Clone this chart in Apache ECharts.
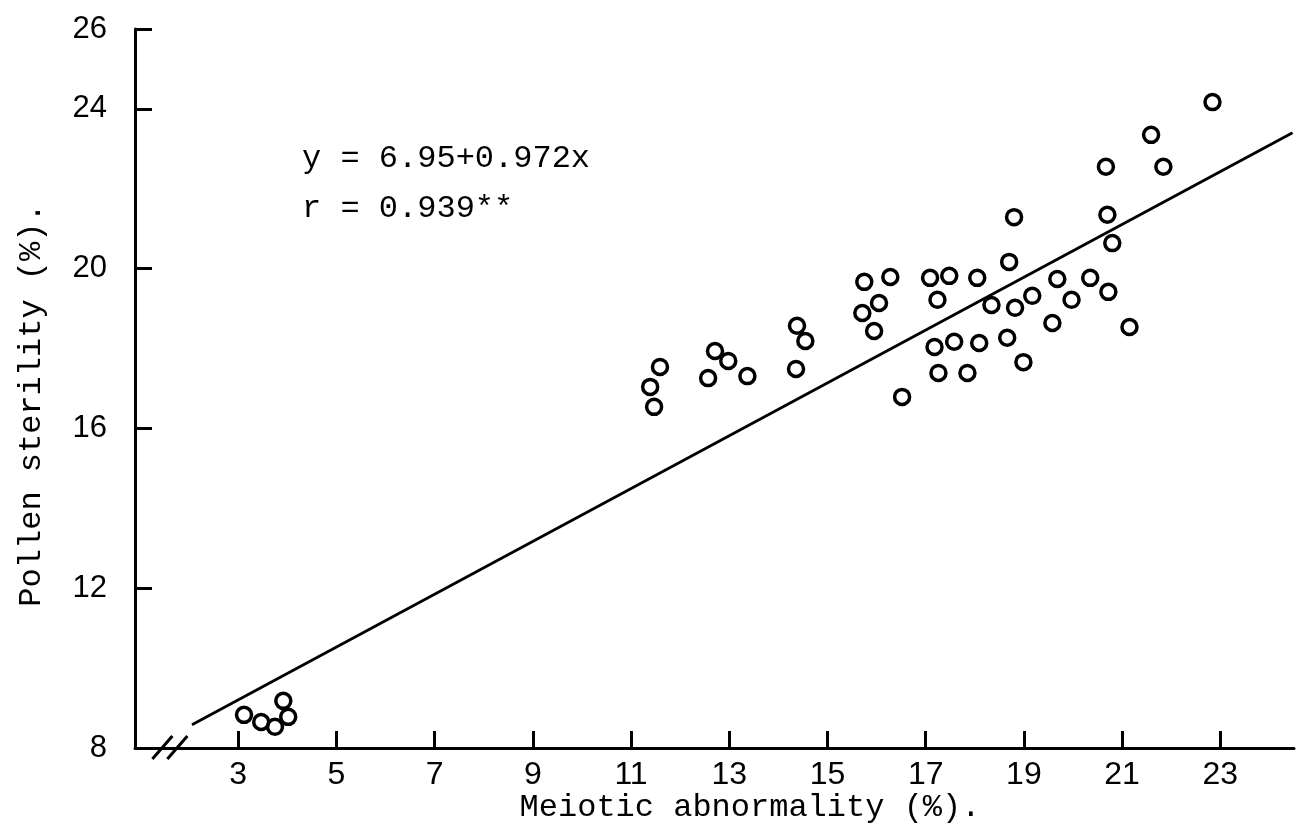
<!DOCTYPE html>
<html>
<head>
<meta charset="utf-8">
<script src="https://cdn.jsdelivr.net/npm/echarts@6/dist/echarts.min.js"></script>
<style>
  html, body { margin: 0; padding: 0; background: #ffffff; }
  #chart { width: 1299px; height: 831px; }
</style>
</head>
<body>
<div id="chart"></div>
<script>
// Meiotic abnormality (%) against pollen sterility (%), one value per plant
const meioticAbnormality = [
  3.12, 3.47, 3.75, 3.92, 4.02,
  11.59, 11.39, 11.47, 12.71, 12.98, 12.57, 13.37,
  14.38, 14.55, 14.36,
  15.75, 16.28, 16.05, 15.71, 15.95, 16.52,
  17.09, 17.48, 17.24, 17.18, 17.26, 17.58, 17.85, 18.05, 18.09, 18.34,
  18.80, 18.70, 18.82, 19.17, 18.66, 18.99,
  19.68, 19.97, 19.58, 20.35, 20.72, 20.70, 20.80, 21.15,
  22.84, 21.59, 20.67, 21.84
];
const pollenSterility = [
  8.83, 8.65, 8.53, 9.18, 8.78,
  17.54, 17.04, 16.54, 17.94, 17.69, 17.26, 17.31,
  18.57, 18.19, 17.49,
  19.67, 19.79, 19.14, 18.89, 18.44, 16.79,
  19.77, 19.82, 19.22, 18.04, 17.39, 18.17, 17.39, 19.77, 18.14, 19.09,
  21.29, 20.17, 19.02, 19.32, 18.27, 17.66,
  19.74, 19.22, 18.64, 19.77, 19.42, 21.35, 20.64, 18.54,
  24.17, 23.35, 22.55, 22.55
];

// fitted line, drawn between its two end points
const fitLineX = [2.06, 24.47];
const fitLineY = [8.58, 23.40];

const xTickValues = [3, 5, 7, 9, 11, 13, 15, 17, 19, 21, 23];
const yTickValues = [8, 12, 16, 20, 24, 26];

const equationText = 'y = 6.95+0.972x';
const correlationText = 'r = 0.939**';
const xTitle = 'Meiotic abnormality (%).';
const yTitle = 'Pollen sterility (%).';

const ink = '#000000';
const monoFont = '"Liberation Mono", "DejaVu Sans Mono", monospace';
const tickFont = '"Liberation Sans", "DejaVu Sans", sans-serif';

const points = meioticAbnormality.map((x, i) => [x, pollenSterility[i]]);
const fitLine = fitLineX.map((x, i) => [x, fitLineY[i]]);

const chart = echarts.init(document.getElementById('chart'), null, { renderer: 'canvas' });

chart.setOption({
  backgroundColor: '#ffffff',
  animation: false,
  grid: { left: 135, right: 5, top: 29, bottom: 83, containLabel: false },
  xAxis: {
    type: 'value',
    min: 0.9,
    max: 24.5,
    splitLine: { show: false },
    axisLine: { show: true, lineStyle: { color: ink, width: 3 } },
    axisTick: {
      show: true, inside: true, length: 17,
      customValues: xTickValues,
      lineStyle: { color: ink, width: 3 }
    },
    axisLabel: {
      customValues: xTickValues,
      margin: 11,
      color: ink,
      fontFamily: tickFont,
      fontSize: 32
    }
  },
  yAxis: {
    type: 'value',
    min: 8,
    max: 26,
    splitLine: { show: false },
    axisLine: { show: true, lineStyle: { color: ink, width: 3 } },
    axisTick: {
      show: true, inside: true, length: 17,
      customValues: yTickValues,
      lineStyle: { color: ink, width: 3 }
    },
    axisLabel: {
      customValues: yTickValues,
      margin: 28,
      color: ink,
      fontFamily: tickFont,
      fontSize: 31
    }
  },
  series: [
    {
      name: 'fit',
      type: 'line',
      data: fitLine,
      showSymbol: false,
      symbol: 'none',
      lineStyle: { color: ink, width: 2.8 },
      silent: true,
      z: 2
    },
    {
      name: 'plants',
      type: 'scatter',
      data: points,
      symbol: 'circle',
      symbolSize: 15,
      itemStyle: { color: 'rgba(255,255,255,0)', borderColor: ink, borderWidth: 3.5, opacity: 1 },
      z: 3
    },
    {
      // axis break mark on the x axis
      name: 'break',
      type: 'custom',
      data: [[1.6, 8]],
      silent: true,
      z: 4,
      renderItem: function (params, api) {
        const p = api.coord([api.value(0), api.value(1)]);
        const seg = (dx) => ({
          type: 'line',
          shape: { x1: p[0] + dx - 10, y1: p[1] + 11, x2: p[0] + dx + 10, y2: p[1] - 12 },
          style: { stroke: ink, lineWidth: 3 }
        });
        return { type: 'group', children: [seg(-7), seg(8)] };
      }
    }
  ],
  graphic: [
    {
      type: 'text', left: 302, top: 143,
      style: { text: equationText, font: '32px ' + monoFont, fill: ink }
    },
    {
      type: 'text', left: 302, top: 193,
      style: { text: correlationText, font: '32px ' + monoFont, fill: ink }
    },
    {
      type: 'text', x: 750, y: 808,
      style: { text: xTitle, font: '32px ' + monoFont, fill: ink, align: 'center', verticalAlign: 'middle' }
    },
    {
      type: 'text', x: 32, y: 405, rotation: Math.PI / 2,
      style: { text: yTitle, font: '32px ' + monoFont, fill: ink, align: 'center', verticalAlign: 'middle' }
    }
  ]
});
</script>
</body>
</html>
